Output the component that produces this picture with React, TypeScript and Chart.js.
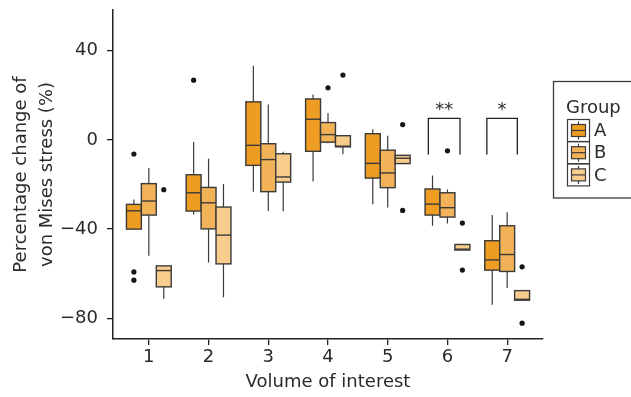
import React, { useEffect, useRef } from 'react';
import { Chart, registerables } from 'chart.js';

Chart.register(...registerables);

// ---- data ----
const categories = ['1', '2', '3', '4', '5', '6', '7'];
const groupNames = ['A', 'B', 'C'];
const groupColors = ['#EE9D22', '#F2B258', '#F8CC8C'];
const groupOffsets = [-0.25, 0, 0.25];
const yTickValues = [-80, -40, 0, 40];

// Group A
const lowA = [-40, -33.4, -23.2, -18.6, -28.9, -38.5, -73.9];
const q1A = [-40, -31.9, -11.4, -5.1, -17.1, -33.7, -58.4];
const medA = [-31.8, -23.7, -2.4, 9.3, -10.5, -28.8, -53.8];
const q3A = [-28.9, -15.6, 17.1, 18.4, 2.8, -22, -45.2];
const highA = [-26.7, -0.9, 33.3, 20.4, 4.8, -15.9, -33.7];
const outA: [number, number][] = [[1, -6.3], [1, -59.2], [1, -62.9], [2, 26.8]];

// Group B
const lowB = [-52, -55, -31.9, -1.5, -30.3, -37.5, -66.4];
const q1B = [-33.7, -39.9, -23.2, -1.0, -21.4, -34.6, -59];
const medB = [-27.4, -28.2, -8.8, 2.4, -14.8, -30.4, -51.4];
const q3B = [-19.6, -21.3, -1.7, 7.8, -4.6, -23.7, -38.5];
const highB = [-12.6, -8.4, 15.9, 12, 1.9, -22.2, -32.4];
const outB: [number, number][] = [[4, 23.4], [6, -4.9]];

// Group C
const lowC = [-71.2, -70.6, -32, -6.4, -10.6, -49.4, -71.9];
const q1C = [-65.9, -55.6, -18.9, -3.1, -10.6, -49.4, -71.9];
const medC = [-58.6, -42.7, -16.6, -2.8, -8.2, -49, -71.5];
const q3C = [-56.5, -30.1, -6.2, 1.9, -6.9, -46.9, -67.6];
const highC = [-56.5, -19.8, -5.3, 1.9, -6.9, -46.9, -67.6];
const outC: [number, number][] = [[1, -22.3], [4, 29.1], [5, 6.9], [5, -31.6], [6, -37.3], [6, -58.4], [7, -56.9], [7, -82.2]];

// significance brackets
const bracketStart = [5.68, 6.66];
const bracketEnd = [6.21, 7.17];
const bracketTop = 9.7;
const bracketBottom = -6.5;
const bracketLabels = ['**', '*'];
const bracketLabelValue = 15.6;

const boxWidth = 0.25;

const lows = [lowA, lowB, lowC];
const q1s = [q1A, q1B, q1C];
const meds = [medA, medB, medC];
const q3s = [q3A, q3B, q3C];
const highs = [highA, highB, highC];
const outs = [outA, outB, outC];

const FONT = 'DejaVu Sans';
const INK = '#2a2a2a';
const EDGE = '#3a3a3a';

const boxPlugin = {
  id: 'boxes',
  beforeDatasetsDraw(chart: any) {
    const { ctx, scales } = chart;
    const xs = scales.x;
    const ys = scales.y;
    const halfW = Math.abs(xs.getPixelForValue(boxWidth) - xs.getPixelForValue(0)) / 2;
    ctx.save();
    for (let s = 0; s < 3; s++) {
      for (let i = 0; i < categories.length; i++) {
        const cx = xs.getPixelForValue(i + 1 + groupOffsets[s]);
        const yLow = ys.getPixelForValue(lows[s][i]);
        const yQ1 = ys.getPixelForValue(q1s[s][i]);
        const yMed = ys.getPixelForValue(meds[s][i]);
        const yQ3 = ys.getPixelForValue(q3s[s][i]);
        const yHigh = ys.getPixelForValue(highs[s][i]);
        ctx.strokeStyle = EDGE;
        ctx.lineWidth = 1.2;
        ctx.beginPath();
        ctx.moveTo(cx, yLow);
        ctx.lineTo(cx, yQ1);
        ctx.moveTo(cx, yQ3);
        ctx.lineTo(cx, yHigh);
        ctx.stroke();
        ctx.fillStyle = groupColors[s];
        ctx.fillRect(cx - halfW, yQ3, halfW * 2, yQ1 - yQ3);
        ctx.lineWidth = 1.4;
        ctx.strokeRect(cx - halfW, yQ3, halfW * 2, yQ1 - yQ3);
        ctx.beginPath();
        ctx.moveTo(cx - halfW, yMed);
        ctx.lineTo(cx + halfW, yMed);
        ctx.stroke();
      }
    }
    ctx.restore();
  },
  afterDatasetsDraw(chart: any) {
    const { ctx, scales } = chart;
    const xs = scales.x;
    const ys = scales.y;
    ctx.save();
    ctx.strokeStyle = '#222';
    ctx.lineWidth = 1.3;
    const yT = ys.getPixelForValue(bracketTop);
    const yB = ys.getPixelForValue(bracketBottom);
    for (let b = 0; b < bracketStart.length; b++) {
      const x1 = xs.getPixelForValue(bracketStart[b]);
      const x2 = xs.getPixelForValue(bracketEnd[b]);
      ctx.beginPath();
      ctx.moveTo(x1, yB);
      ctx.lineTo(x1, yT);
      ctx.lineTo(x2, yT);
      ctx.lineTo(x2, yB);
      ctx.stroke();
      ctx.fillStyle = INK;
      ctx.font = `18px "${FONT}"`;
      ctx.textAlign = 'center';
      ctx.textBaseline = 'alphabetic';
      ctx.fillText(bracketLabels[b], (x1 + x2) / 2, ys.getPixelForValue(bracketLabelValue) + 10);
    }
    ctx.restore();
  },
  afterDraw(chart: any) {
    const { ctx } = chart;
    ctx.save();
    // legend frame
    ctx.strokeStyle = EDGE;
    ctx.lineWidth = 1.3;
    ctx.strokeRect(553.5, 81.5, 100, 116.5);
    ctx.fillStyle = INK;
    ctx.font = `18px "${FONT}"`;
    ctx.textAlign = 'left';
    ctx.textBaseline = 'alphabetic';
    ctx.fillText('Group', 566, 112.5);
    for (let s = 0; s < 3; s++) {
      const kx = 567.5;
      const ky = 119.5 + s * 22.2;
      const k = 22;
      ctx.strokeStyle = EDGE;
      ctx.lineWidth = 1.2;
      ctx.strokeRect(kx, ky, k, k);
      ctx.beginPath();
      ctx.moveTo(kx + k / 2, ky + 2);
      ctx.lineTo(kx + k / 2, ky + k - 2);
      ctx.stroke();
      ctx.fillStyle = groupColors[s];
      ctx.fillRect(kx + 4, ky + 5, k - 8, k - 10);
      ctx.strokeRect(kx + 4, ky + 5, k - 8, k - 10);
      ctx.beginPath();
      ctx.moveTo(kx + 4, ky + k / 2);
      ctx.lineTo(kx + k - 4, ky + k / 2);
      ctx.stroke();
      ctx.fillStyle = INK;
      ctx.textBaseline = 'middle';
      ctx.fillText(groupNames[s], 594, ky + k / 2 + 1);
    }
    ctx.restore();
  },
};

export default function App() {
  const ref = useRef<HTMLCanvasElement>(null);
  useEffect(() => {
    if (!ref.current) return;
    Chart.defaults.font.family = FONT;
    const datasets = outs.map((o, s) => ({
      label: groupNames[s],
      data: o.map(([c, v]) => ({ x: c + groupOffsets[s], y: v })),
      pointRadius: 2.6,
      pointBackgroundColor: '#151515',
      pointBorderWidth: 0,
      pointHoverRadius: 2.6,
    }));
    const tickFont = { family: FONT, size: 18 };
    const chart = new Chart(ref.current, {
      type: 'scatter',
      data: { datasets },
      options: {
        animation: false,
        responsive: false,
        layout: { padding: { top: 10, right: 88, left: 0, bottom: 0 } },
        plugins: { legend: { display: false }, tooltip: { enabled: false } },
        scales: {
          x: {
            type: 'linear',
            min: 0.4,
            max: 7.6,
            afterBuildTicks: (s: any) => {
              s.ticks = categories.map((_, i) => ({ value: i + 1 }));
            },
            afterFit: (s: any) => {
              s.height = 58;
              s.paddingLeft = 0;
              s.paddingRight = 0;
            },
            ticks: {
              callback: (v: any) => categories[Math.round(v) - 1],
              font: tickFont,
              color: INK,
              padding: 2,
              maxRotation: 0,
              autoSkip: false,
            },
            grid: { display: true, drawOnChartArea: false, drawTicks: true, tickLength: 6, color: '#222', lineWidth: 1.3 },
            border: { display: true, color: '#222', width: 1.5 },
            title: {
              display: true,
              text: 'Volume of interest',
              font: { family: FONT, size: 18, lineHeight: 1.2 },
              color: INK,
              padding: { top: 0, bottom: 4 },
            },
          },
          y: {
            type: 'linear',
            min: -89.3,
            max: 58.3,
            afterBuildTicks: (s: any) => {
              s.ticks = yTickValues.map((v) => ({ value: v }));
            },
            afterFit: (s: any) => {
              s.width = 113;
              s.paddingTop = 0;
              s.paddingBottom = 0;
            },
            ticks: {
              callback: (v: any) => (v < 0 ? '\u2212' + Math.abs(v) : String(v)),
              font: tickFont,
              color: INK,
              padding: 9,
            },
            grid: { display: true, drawOnChartArea: false, drawTicks: true, tickLength: 6, color: '#222', lineWidth: 1.3 },
            border: { display: true, color: '#222', width: 1.5 },
            title: {
              display: true,
              text: ['Percentage change of', 'von Mises stress (%)'],
              font: { family: FONT, size: 18, lineHeight: 1.45 },
              color: INK,
              padding: { top: 8, bottom: 0 },
            },
          },
        },
      },
      plugins: [boxPlugin],
    } as any);
    return () => chart.destroy();
  }, []);
  return (
    <div style={{ position: 'fixed', left: 0, top: 0, width: 631, height: 397, background: '#fff' }}>
      <canvas ref={ref} width={631} height={397} style={{ width: 631, height: 397, display: 'block' }} />
    </div>
  );
}
